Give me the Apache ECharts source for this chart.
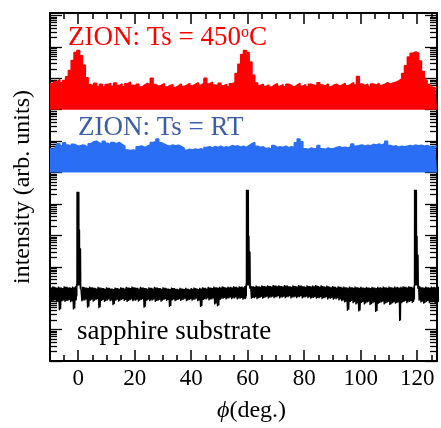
<!DOCTYPE html>
<html><head><meta charset="utf-8">
<script src="https://cdn.jsdelivr.net/npm/echarts@6/dist/echarts.min.js"></script>
<style>html,body{margin:0;padding:0;background:#fff}#c{width:441px;height:428px}</style>
</head><body><div id="c"></div>
<script>
// x axis tick labels (deg) and minor ticks
const xTickLabels = [0, 20, 40, 60, 80, 100, 120];
const xMinorTicks = [-5, 5, 10, 15, 25, 30, 35, 45, 50, 55, 65, 70, 75, 85, 90, 95, 105, 110, 115, 125];
// y axis: log10(intensity) decades and minor factors
const yDecades = [0, 1, 2, 3, 4, 5, 6, 7, 8, 9, 10, 11];
const yMinorFactors = [2, 3, 4, 5, 6, 7, 8, 9];

// ZION Ts=450C : [phi, log10 intensity]
const redTrace = [[-10,8.85],[-9,8.80],[-8,8.90],[-7,8.96],[-6,8.86],[-5,8.93],[-4,9.05],[-3,9.25],[-2,9.57],[-1,9.82],[0,9.89],[1,9.72],[2,9.42],[3,9.02],[4,8.80],[5,8.76],[6,8.84],[7,8.74],[8,8.81],[9,8.72],[10,8.80],[11,8.84],[12,8.75],[13,8.85],[14,8.77],[15,8.82],[16,8.73],[17,8.83],[18,8.88],[19,8.78],[20,8.74],[21,8.81],[22,8.72],[23,8.78],[24,8.84],[25,8.79],[26,9.00],[27,8.80],[28,8.74],[29,8.78],[30,8.83],[31,8.72],[32,8.77],[33,8.80],[34,8.71],[35,8.76],[36,8.82],[37,8.74],[38,8.78],[39,8.84],[40,8.76],[41,8.81],[42,8.86],[43,8.78],[44,8.84],[45,9.00],[46,8.82],[47,8.88],[48,8.79],[49,8.76],[50,8.84],[51,8.76],[52,8.81],[53,8.73],[54,8.83],[55,8.86],[56,9.15],[57,9.45],[58,9.76],[59,9.89],[60,9.82],[61,9.52],[62,9.10],[63,8.85],[64,8.77],[65,8.81],[66,8.74],[67,8.79],[68,8.72],[69,8.78],[70,8.83],[71,8.75],[72,8.80],[73,8.73],[74,8.81],[75,8.77],[76,8.72],[77,8.78],[78,8.84],[79,8.75],[80,8.80],[81,8.73],[82,8.81],[83,8.78],[84,8.74],[85,8.86],[86,8.79],[87,8.76],[88,8.82],[89,8.73],[90,8.78],[91,8.81],[92,8.75],[93,8.79],[94,8.84],[95,8.76],[96,8.81],[97,8.86],[98,8.79],[99,9.06],[100,8.82],[101,8.77],[102,8.81],[103,8.74],[104,8.82],[105,8.78],[106,8.84],[107,8.77],[108,8.81],[109,8.86],[110,8.81],[111,8.85],[112,8.88],[113,8.92],[114,8.98],[115,9.15],[116,9.40],[117,9.68],[118,9.80],[119,9.84],[120,9.80],[121,9.55],[122,9.22],[123,8.95],[124,8.80],[125,8.72],[126,8.68],[127,8.72]];
const redBase = 8;

// ZION Ts=RT : [phi, log10 intensity]
const blueTrace = [[-10,6.76],[-9,6.74],[-8,6.78],[-7,6.92],[-6,6.85],[-5,6.95],[-4,6.88],[-3,6.82],[-2,6.90],[-1,6.86],[0,6.84],[1,6.88],[2,6.86],[3,6.80],[4,6.92],[5,6.98],[6,7.00],[7,6.94],[8,6.90],[9,7.00],[10,6.93],[11,6.88],[12,6.96],[13,6.92],[14,6.96],[15,6.90],[16,6.84],[17,6.72],[18,6.70],[19,6.72],[20,6.70],[21,6.82],[22,6.85],[23,6.80],[24,6.84],[25,6.88],[26,6.96],[27,6.98],[28,7.07],[29,6.95],[30,6.90],[31,6.86],[32,6.84],[33,6.88],[34,6.85],[35,6.87],[36,6.83],[37,6.78],[38,6.71],[39,6.74],[40,6.72],[41,6.75],[42,6.73],[43,6.76],[44,6.72],[45,6.80],[46,6.82],[47,6.78],[48,6.83],[49,6.80],[50,6.84],[51,6.79],[52,6.82],[53,6.80],[54,6.86],[55,6.83],[56,6.85],[57,6.81],[58,6.84],[59,6.80],[60,6.86],[61,6.92],[62,6.96],[63,6.84],[64,6.80],[65,6.82],[66,6.76],[67,6.78],[68,6.74],[69,6.86],[70,6.80],[71,6.82],[72,6.80],[73,6.84],[74,6.79],[75,6.82],[76,6.80],[77,6.95],[78,7.07],[79,6.98],[80,6.76],[81,6.74],[82,6.78],[83,6.75],[84,6.77],[85,6.86],[86,6.76],[87,6.74],[88,6.78],[89,6.75],[90,6.77],[91,6.80],[92,6.82],[93,6.79],[94,6.81],[95,6.78],[96,6.82],[97,6.91],[98,6.84],[99,6.86],[100,6.88],[101,6.84],[102,6.87],[103,6.85],[104,6.90],[105,6.88],[106,6.91],[107,6.87],[108,6.92],[109,7.00],[110,6.86],[111,6.83],[112,6.85],[113,6.81],[114,6.84],[115,6.82],[116,6.84],[117,6.86],[118,6.84],[119,6.88],[120,6.85],[121,6.87],[122,6.84],[123,6.86],[124,6.83],[125,6.81],[126,6.84],[127,6.82]];
const blueBase = 6;

// sapphire substrate : [phi, upper log10 intensity, lower log10 intensity]
const blackTrace = [[-10,2.36,1.88],[-9,2.38,1.92],[-8,2.35,1.86],[-7,2.37,1.62],[-6,2.34,1.90],[-5,2.38,1.88],[-4,2.36,1.91],[-3,2.35,1.87],[-2,2.37,1.64],[-1,2.38,1.92],[-0.6,2.45,2.05],[-0.45,5.39,2.40],[-0.3,5.39,2.40],[-0.15,5.39,2.40],[0,5.39,2.40],[0.15,5.39,3.20],[0.3,4.20,2.40],[0.6,3.60,2.30],[1,2.38,1.90],[2,2.36,1.93],[3,2.34,1.70],[4,2.37,1.92],[5,2.35,1.89],[6,2.33,1.94],[7,2.36,1.68],[8,2.34,1.91],[9,2.32,1.88],[10,2.35,1.93],[11,2.33,1.90],[12,2.31,1.78],[13,2.34,1.92],[14,2.32,1.89],[15,2.35,1.94],[16,2.33,1.91],[17,2.36,1.88],[18,2.34,1.93],[19,2.37,1.90],[20,2.35,1.92],[21,2.33,1.89],[22,2.36,1.94],[23,2.34,1.70],[24,2.32,1.92],[25,2.35,1.90],[26,2.33,1.93],[27,2.36,1.88],[28,2.34,1.92],[29,2.32,1.89],[30,2.35,1.94],[31,2.33,1.91],[32,2.31,1.72],[33,2.34,1.93],[34,2.32,1.90],[35,2.30,1.94],[36,2.33,1.91],[37,2.31,1.95],[38,2.33,1.90],[39,2.30,1.94],[40,2.32,1.92],[41,2.34,1.95],[42,2.31,1.90],[43,2.33,1.72],[44,2.35,1.94],[45,2.33,1.96],[46,2.36,1.93],[47,2.34,1.96],[48,2.37,1.80],[49,2.35,1.74],[50,2.36,1.95],[51,2.38,1.98],[52,2.35,1.96],[53,2.37,1.99],[54,2.36,1.97],[55,2.38,1.99],[56,2.36,1.96],[57,2.38,1.98],[58,2.37,1.95],[59,2.39,1.97],[59.4,2.46,2.05],[59.55,5.45,2.40],[59.7,5.45,2.40],[59.85,5.45,2.40],[60.0,5.45,2.40],[60.15,5.45,3.20],[60.3,4.00,2.40],[60.6,3.50,2.30],[61,2.40,1.98],[62,2.38,2.00],[63,2.40,1.97],[64,2.38,2.01],[65,2.41,1.98],[66,2.39,2.02],[67,2.41,1.99],[68,2.39,2.02],[69,2.42,2.00],[70,2.40,2.03],[71,2.41,1.99],[72,2.39,2.02],[73,2.42,2.00],[74,2.40,2.03],[75,2.38,1.99],[76,2.41,2.02],[77,2.39,2.00],[78,2.42,2.03],[79,2.40,1.99],[80,2.38,2.02],[81,2.41,2.00],[82,2.39,1.98],[83,2.40,2.01],[84,2.42,1.98],[85,2.39,2.00],[86,2.41,1.97],[87,2.38,2.00],[88,2.40,1.96],[89,2.37,1.98],[90,2.39,1.95],[91,2.36,1.97],[92,2.38,1.93],[93,2.36,1.90],[94,2.37,1.86],[95,2.35,1.60],[96,2.37,1.88],[97,2.35,1.84],[98,2.37,1.80],[99,2.35,1.58],[100,2.36,1.85],[101,2.34,1.80],[102,2.36,1.86],[103,2.34,1.78],[104,2.36,1.84],[105,2.34,1.56],[106,2.36,1.82],[107,2.35,1.86],[108,2.37,1.80],[109,2.35,1.85],[110,2.37,1.78],[111,2.35,1.84],[112,2.37,1.82],[113,2.36,1.86],[113.6,2.34,1.27],[114.2,2.36,1.84],[115,2.38,1.88],[116,2.36,1.84],[117,2.38,1.88],[118,2.36,1.85],[118.9,2.40,1.95],[119.05,5.45,2.40],[119.2,5.45,2.40],[119.35,5.45,2.40],[119.5,5.45,2.40],[119.65,5.45,3.20],[119.8,4.00,2.40],[120.1,3.40,2.30],[120.5,2.40,1.92],[121,2.37,1.86],[122,2.35,1.82],[123,2.37,1.88],[124,2.35,1.84],[125,2.37,1.87],[126,2.36,1.83],[127,2.38,1.86]];

const X_MIN = -10, X_MAX = 127, Y_MIN = 0, Y_MAX = 11.08;
const FONT = 'Liberation Serif';

const yMinorTicks = [];
yDecades.forEach(d => yMinorFactors.forEach(f => { const v = d + Math.log10(f); if (v < Y_MAX) yMinorTicks.push(v); }));

// noisy substrate trace drawn as a dense zig-zag between its upper and lower envelope
const blackLine = [];
blackTrace.forEach((p, i) => {
  blackLine.push([p[0], p[1]]);
  const nx = i + 1 < blackTrace.length ? blackTrace[i + 1][0] : p[0] + 1;
  const w = Math.min(0.5, (nx - p[0]) / 2);
  blackLine.push([p[0] + w * 0.6, p[2]]);
  blackLine.push([p[0] + w, p[1] - 0.02]);
  blackLine.push([p[0] + w * 1.5, p[2] + 0.03]);
});

const hiddenLine = { show: false, onZero: false };
function xAx(pos, ticks, len, opts) {
  return Object.assign({
    type: 'value', position: pos, min: X_MIN, max: X_MAX, gridIndex: 0,
    axisLine: { show: true, onZero: false, lineStyle: { color: '#000', width: 2 } },
    axisTick: { show: true, inside: true, length: len, customValues: ticks, lineStyle: { color: '#000', width: 1.5 } },
    axisLabel: { show: false }, splitLine: { show: false }
  }, opts || {});
}
function yAx(pos, ticks, len, opts) {
  return Object.assign({
    type: 'value', position: pos, min: Y_MIN, max: Y_MAX, gridIndex: 0,
    axisLine: { show: true, onZero: false, lineStyle: { color: '#000', width: 2 } },
    axisTick: { show: true, inside: true, length: len, customValues: ticks, lineStyle: { color: '#000', width: 1.3 } },
    axisLabel: { show: false }, splitLine: { show: false }
  }, opts || {});
}

const chart = echarts.init(document.getElementById('c'), null, { renderer: 'canvas' });
chart.setOption({
  animation: false,
  backgroundColor: '#fff',
  grid: { left: 50, right: 4, top: 13, bottom: 55 },
  xAxis: [
    xAx('bottom', xTickLabels, 11, {
      axisLabel: { show: true, customValues: xTickLabels, margin: 6, color: '#000', fontSize: 23, fontFamily: FONT },
      name: '{i|ϕ}(deg.)', nameLocation: 'middle', nameGap: 38,
      nameTextStyle: { color: '#000', fontSize: 24, fontFamily: FONT, padding: [0, 0, 0, 16],
        rich: { i: { fontStyle: 'italic', fontSize: 24, fontFamily: FONT, color: '#000' } } }
    }),
    xAx('bottom', xMinorTicks, 6, { axisLine: hiddenLine }),
    xAx('top', xTickLabels, 11),
    xAx('top', xMinorTicks, 6, { axisLine: hiddenLine })
  ],
  yAxis: [
    yAx('left', yDecades, 12, {
      name: 'intensity (arb. units)', nameLocation: 'middle', nameGap: 15,
      nameTextStyle: { color: '#000', fontSize: 24, fontFamily: FONT }
    }),
    yAx('left', yMinorTicks, 7, { axisLine: hiddenLine }),
    yAx('right', yDecades, 12),
    yAx('right', yMinorTicks, 7, { axisLine: hiddenLine })
  ],
  series: [
    { type: 'line', xAxisIndex: 0, yAxisIndex: 0, data: redTrace, step: 'middle', symbol: 'none',
      lineStyle: { color: '#ff0000', width: 1.5 }, areaStyle: { color: '#ff0000', opacity: 1, origin: redBase } },
    { type: 'line', xAxisIndex: 0, yAxisIndex: 0, data: blueTrace, step: 'middle', symbol: 'none',
      lineStyle: { color: '#2a6ef5', width: 1.5 }, areaStyle: { color: '#2a6ef5', opacity: 1, origin: blueBase } },
    { type: 'line', xAxisIndex: 0, yAxisIndex: 0, symbol: 'none', data: blackLine,
      lineStyle: { color: '#000', width: 1.3 } }
  ],
  graphic: [
    { type: 'text', x: 68, y: 38, z: 100, style: {
        text: '{a|ZION: Ts = 450}{s|o}{a|C}', fill: '#ff0000', verticalAlign: 'middle',
        rich: { a: { fontSize: 27, fontFamily: FONT, fill: '#ff0000', color: '#ff0000' },
                s: { fontSize: 16, fontFamily: FONT, verticalAlign: 'top', fill: '#ff0000', color: '#ff0000' } } } },
    { type: 'text', x: 78, y: 128, z: 100, style: {
        text: 'ZION: Ts = RT', fill: '#3b5ea6', font: '27px "Liberation Serif"', verticalAlign: 'middle' } },
    { type: 'text', x: 77, y: 332, z: 100, style: {
        text: 'sapphire substrate', fill: '#000', font: '27px "Liberation Serif"', verticalAlign: 'middle' } }
  ]
});
</script></body></html>
